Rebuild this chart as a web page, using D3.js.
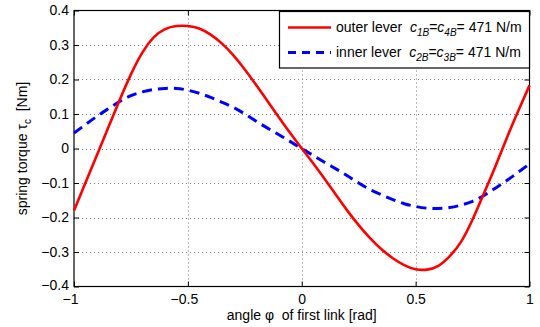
<!DOCTYPE html>
<html><head><meta charset="utf-8">
<script src="https://cdn.jsdelivr.net/npm/d3@7"></script>
<style>
html,body{margin:0;padding:0;background:#fff;}
text{font-family:"Liberation Sans",Arial,Helvetica,sans-serif;}
</style></head>
<body><svg id="chart" width="540" height="327"></svg>
<script>
const angles = [-1,-0.95,-0.9,-0.85,-0.8,-0.75,-0.7,-0.65,-0.6,-0.55,-0.5,-0.45,-0.4,-0.35,-0.3,-0.25,-0.2,-0.15,-0.1,-0.05,0,
  0.05,0.1,0.15,0.2,0.25,0.3,0.35,0.4,0.45,0.5,0.55,0.6,0.65,0.7,0.75,0.8,0.85,0.9,0.95,1];
const outerLever = [-0.18,-0.1,-0.02,0.06,0.14,0.215,0.278,0.322,0.346,0.355,0.355,0.348,0.33,0.304,0.27,0.229,0.184,0.137,0.09,0.044,0,
  -0.043,-0.088,-0.134,-0.18,-0.222,-0.26,-0.292,-0.318,-0.338,-0.35,-0.351,-0.34,-0.312,-0.27,-0.206,-0.13,-0.052,0.03,0.108,0.183];
const innerLever = [0.045,0.069,0.093,0.115,0.136,0.153,0.164,0.171,0.174,0.174,0.169,0.16,0.148,0.134,0.119,0.1,0.079,0.059,0.04,0.02,0,
  -0.02,-0.04,-0.059,-0.079,-0.1,-0.119,-0.134,-0.148,-0.16,-0.168,-0.173,-0.174,-0.171,-0.164,-0.153,-0.136,-0.115,-0.093,-0.069,-0.045];
const xTicks = [-1,-0.5,0,0.5,1];
const yTicks = [-0.4,-0.3,-0.2,-0.1,0,0.1,0.2,0.3,0.4];
const xTickLabels = ["\u22121","\u22120.5","0","0.5","1"];
const yTickLabels = ["\u22120.4","\u22120.3","\u22120.2","\u22120.1","0","0.1","0.2","0.3","0.4"];

const svg = d3.select("#chart");
const L=74, R=529.5, T=10.5, B=286.5;
const x = d3.scaleLinear().domain([-1,1]).range([L,R]);
const y = d3.scaleLinear().domain([-0.4,0.4]).range([B,T]);

// grid
const grid = svg.append("g");
grid.selectAll(".gx").data(xTicks.filter(d=>d>-1&&d<1)).join("line")
  .attr("x1",d=>Math.round(x(d))+0.5).attr("x2",d=>Math.round(x(d))+0.5).attr("y1",T).attr("y2",B)
  .attr("stroke","#777").attr("stroke-width",1).attr("stroke-dasharray","1,3");
grid.selectAll(".gy").data(yTicks.filter(d=>d>-0.4&&d<0.4)).join("line")
  .attr("y1",d=>Math.round(y(d))+0.5).attr("y2",d=>Math.round(y(d))+0.5).attr("x1",L).attr("x2",R)
  .attr("stroke","#777").attr("stroke-width",1).attr("stroke-dasharray","1,3");

// axes with inner ticks, both sides
const fs = "14px";
const axB = svg.append("g").attr("transform",`translate(0,${B})`)
  .call(d3.axisBottom(x).tickValues(xTicks).tickSize(-5).tickFormat((d,i)=>xTickLabels[i]));
const axT = svg.append("g").attr("transform",`translate(0,${T})`)
  .call(d3.axisTop(x).tickValues(xTicks).tickSize(-5).tickFormat(""));
const axL = svg.append("g").attr("transform",`translate(${L},0)`)
  .call(d3.axisLeft(y).tickValues(yTicks).tickSize(-5).tickFormat((d,i)=>yTickLabels[i]));
const axR = svg.append("g").attr("transform",`translate(${R},0)`)
  .call(d3.axisRight(y).tickValues(yTicks).tickSize(-5).tickFormat(""));
[axB,axT,axL,axR].forEach(a=>{
  a.select(".domain").remove();
  a.selectAll(".tick line").attr("stroke","#000");
  a.selectAll("text").attr("font-size",fs).attr("fill","#000").attr("font-family","Liberation Sans, Arial, sans-serif");
});
axB.selectAll(".tick text").attr("y",8).attr("dy","0.71em").attr("dx",(d)=>d<0?-4:0);
axL.selectAll(".tick text").attr("x",-5);
axL.selectAll(".tick text").filter(d=>d===-0.4).attr("dy","0.2em");

// frame
svg.append("rect").attr("x",L).attr("y",T).attr("width",R-L).attr("height",B-T)
  .attr("fill","none").attr("stroke","#000").attr("stroke-width",1.2);

// lines
const line = (vals)=>d3.line().x((d,i)=>x(angles[i])).y(d=>y(d)).curve(d3.curveNatural)(vals);
svg.append("path").attr("d",line(innerLever)).attr("fill","none").attr("stroke","#0000ff")
  .attr("stroke-width",3).attr("stroke-dasharray","10,6");
svg.append("path").attr("d",line(outerLever)).attr("fill","none").attr("stroke","#ff0000")
  .attr("stroke-width",2.6);

// legend
const lg = svg.append("g");
lg.append("rect").attr("x",279.5).attr("y",11.5).attr("width",250).attr("height",56.5)
  .attr("fill","#fff").attr("stroke","#000").attr("stroke-width",1.2);
lg.append("line").attr("x1",288).attr("x2",331).attr("y1",27.5).attr("y2",27.5).attr("stroke","#ff0000").attr("stroke-width",2.6);
lg.append("line").attr("x1",288).attr("x2",331).attr("y1",52.5).attr("y2",52.5).attr("stroke","#0000ff").attr("stroke-width",3).attr("stroke-dasharray","8,6");
function legText(yb, label, s1, s2){
  const t = lg.append("text").attr("x",336).attr("y",yb).attr("font-size",fs).attr("fill","#000");
  t.append("tspan").text(label+"\u00a0\u00a0");
  t.append("tspan").attr("font-style","italic").text("c");
  t.append("tspan").attr("font-size","10px").attr("font-style","italic").attr("dy",4).text(s1);
  t.append("tspan").attr("dy",-4).text("=");
  t.append("tspan").attr("font-style","italic").text("c");
  t.append("tspan").attr("font-size","10px").attr("font-style","italic").attr("dy",4).text(s2);
  t.append("tspan").attr("dy",-4).text("= 471 N/m");
}
legText(32, "outer lever", "1B", "4B");
legText(57, "inner lever", "2B", "3B");

// axis titles
svg.append("text").attr("x",(L+R)/2).attr("y",320).attr("text-anchor","middle").attr("font-size",fs)
  .text("angle \u03c6\u00a0 of first link [rad]");
const yt = svg.append("text").attr("transform",`translate(27,${(T+B)/2}) rotate(-90)`).attr("text-anchor","middle").attr("font-size",fs);
yt.append("tspan").text("spring torque \u03c4");
yt.append("tspan").attr("font-size","10px").attr("dy",4).text("c");
yt.append("tspan").attr("dy",-4).text("\u00a0 [Nm]");
</script></body></html>
